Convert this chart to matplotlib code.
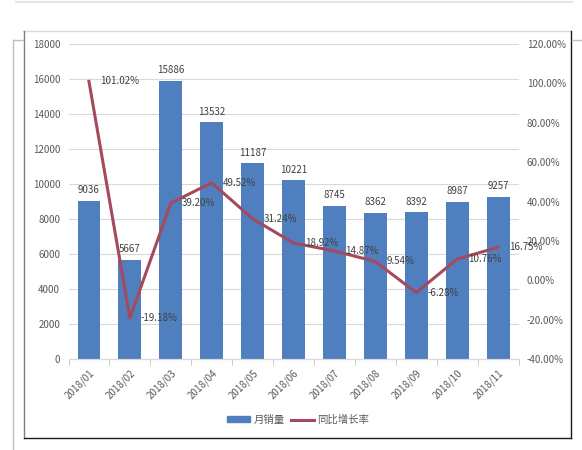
import matplotlib.pyplot as plt
from matplotlib.lines import Line2D
from matplotlib.patches import Patch
import numpy as np

plt.rcParams['font.family'] = ['Noto Sans CJK SC', 'DejaVu Sans']

# data
months = ['2018/01', '2018/02', '2018/03', '2018/04', '2018/05', '2018/06',
          '2018/07', '2018/08', '2018/09', '2018/10', '2018/11']
sales = [9036, 5667, 15886, 13532, 11187, 10221, 8745, 8362, 8392, 8987, 9257]
growth = [101.02, -19.18, 39.20, 49.52, 31.24, 18.92, 14.87, 9.54, -6.28, 10.76, 16.75]

bar_color = '#4F7FBF'
line_color = '#A44A5C'
txt = '#595959'

W, H = 582, 450
fig = plt.figure(figsize=(W / 100, H / 100), dpi=100)

def fx(px):
    return px / W

def fy(py):
    return 1 - py / H

ax = fig.add_axes([fx(68.5), fy(359), fx(518.5) - fx(68.5), fy(44) - fy(359)])
ax2 = ax.twinx()

x = np.arange(len(months))
bars = ax.bar(x, sales, width=0.56, color=bar_color, zorder=2)
ax.set_xlim(-0.5, len(months) - 0.5)
ax.set_ylim(0, 18000)
ax.set_yticks(range(0, 18001, 2000))
ax.grid(axis='y', color='#D9D9D9', lw=0.8, zorder=0)
ax.set_axisbelow(True)
for b, v in zip(bars, sales):
    ax.annotate(str(v), (b.get_x() + b.get_width() / 2, v), xytext=(0, 4),
                textcoords='offset points', ha='center', va='bottom',
                fontsize=7, color='#404040')

ax.set_xticks(x)
ax.set_xticklabels(months, rotation=45, ha='right', va='top',
                   rotation_mode='anchor', fontsize=7, color=txt)
ax.set_xticks(np.arange(-0.5, len(months), 1), minor=True)
ax.tick_params(axis='x', which='major', length=0, pad=6)
ax.tick_params(axis='x', which='minor', length=4, color='#BFBFBF')
ax.tick_params(axis='y', length=0, labelsize=7, labelcolor=txt, pad=6)

ax2.plot(x, growth, color=line_color, lw=2.2, zorder=3)
ax2.set_ylim(-40, 120)
ax2.set_yticks(range(-40, 121, 20))
ax2.set_yticklabels(['%.2f%%' % t for t in range(-40, 121, 20)])
ax2.tick_params(axis='y', length=0, labelsize=7, labelcolor=txt, pad=6)
for xi, g in zip(x, growth):
    ax2.annotate('%.2f%%' % g, (xi, g), xytext=(8, 0), textcoords='offset points',
                 ha='left', va='center', fontsize=7, color='#404040')

for a in (ax, ax2):
    for s in ['top', 'left', 'right']:
        a.spines[s].set_visible(False)
    a.spines['bottom'].set_color('#D9D9D9')

handles = [Patch(color=bar_color), Line2D([], [], color=line_color, lw=2.2)]
fig.legend(handles, ['月销量', '同比增长率'], loc='center', ncol=2,
           bbox_to_anchor=(fx(298), fy(420)), frameon=False, fontsize=7.5,
           handlelength=2.2, handleheight=0.5, columnspacing=0.6,
           handletextpad=0.3, labelcolor=txt)

# screenshot frame lines
def seg(x0, y0, x1, y1, c, lw=1.0):
    fig.add_artist(Line2D([fx(x0), fx(x1)], [fy(y0), fy(y1)], color=c, lw=lw))

seg(16, 2, 572, 2, '#E6E6E6', 1.5)
seg(23, 31, 571, 31, '#D9D9D9')
seg(24, 31, 24, 438, '#7F7F7F')
seg(571, 31, 571, 438, '#1A1A1A')
seg(24, 438, 571, 438, '#1A1A1A')
seg(13, 40, 13, 450, '#BFBFBF')
seg(13, 40, 23, 40, '#BFBFBF')
seg(572, 40, 582, 40, '#BFBFBF')

fig.savefig('out.png', dpi=100)
